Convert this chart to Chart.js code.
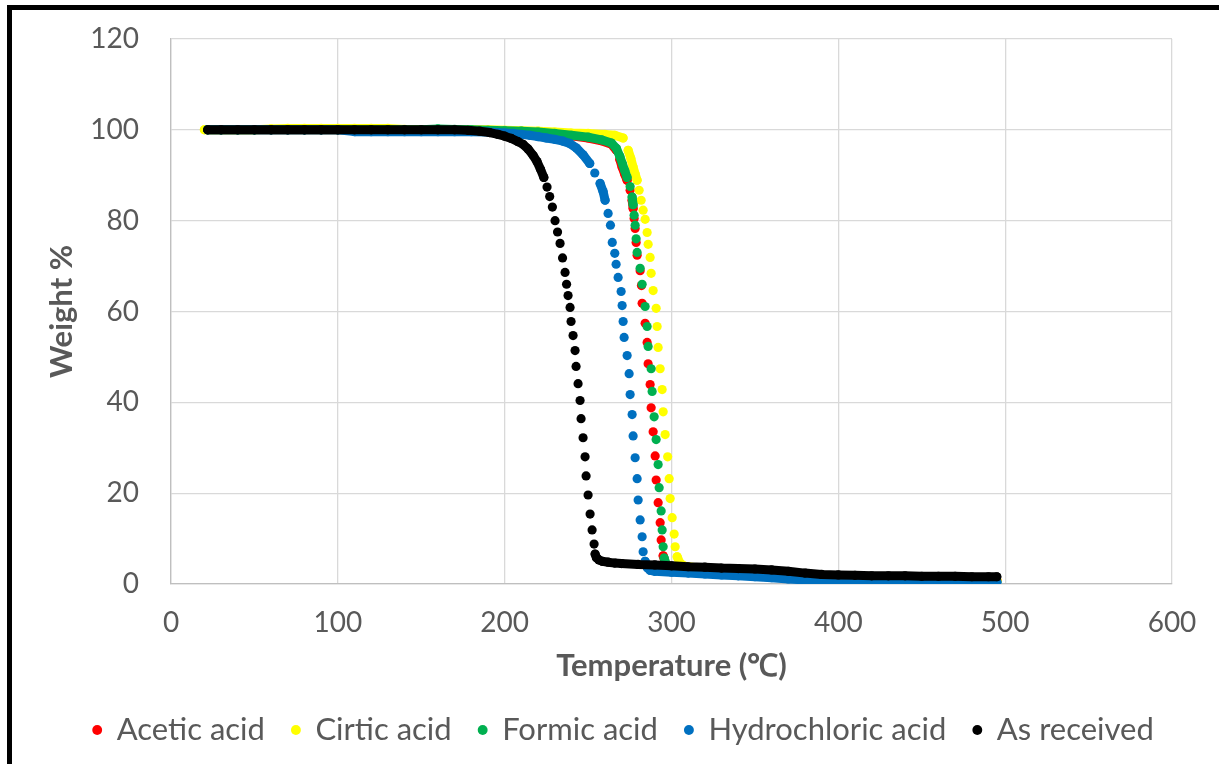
<!DOCTYPE html>
<html><head><meta charset="utf-8">
<script src="https://cdn.jsdelivr.net/npm/chart.js@4.4.0/dist/chart.umd.min.js"></script>
<style>
html,body{margin:0;padding:0;background:#fff;overflow:hidden;width:1219px;height:764px;}
#frame{position:absolute;left:7px;top:5px;width:1400px;height:1000px;border:5px solid #000;box-sizing:border-box;}
#wrap{position:absolute;left:0;top:0;width:1219px;height:764px;}
canvas{display:block;}
</style></head><body>
<div id="frame"></div>
<div id="wrap"><canvas id="c" width="1219" height="764" style="width:1219px;height:764px"></canvas></div>
<script>
// ---- data ----
const seriesNames = ['Acetic acid', 'Cirtic acid', 'Formic acid', 'Hydrochloric acid', 'As received'];

const aceticT = [22,30,40,50,60,70,80,90,100,110,120,130,140,150,160,170,180,190,200,210,220,230,240,250,258,264,267,269,270.4,272,273.4,275.2,276.4,277,277.6,278.2,278.8,279.4,281.2,282,282.4,284.2,285.4,286,287.2,287.8,289,290.2,290.8,292,293.2,293.8,295,296.5,298.5,305,320,340,360,380,400,420,440,460,480,495];
const aceticW = [100,100,100,100,100,100,100,100,100,100,100,100,100,100,99.9,99.9,99.8,99.8,99.7,99.6,99.4,99.1,98.7,98.2,97.6,96.8,95.5,93.5,91.8,90.2,88.9,86.7,84.5,82.7,80.5,78.3,75.2,72.4,69,65.7,61.8,57.4,53.2,48.5,43.9,38.8,33.5,28.2,22.9,17.9,13.5,9.7,6.2,4.4,3.6,3.3,3.0,2.6,2.2,1.6,1.2,1.0,0.9,0.8,0.8,0.8];

const citricT = [20,30,40,50,60,70,80,90,100,110,120,130,140,150,160,170,180,190,200,210,220,230,240,250,260,266,271,274,275.6,277,278.2,279.4,280.6,281.8,283,284.2,285.4,286,287.2,287.8,289,290.8,291.4,292,293.2,294.4,295,296.2,297.7,298.6,299.2,300.4,301.6,302.2,303.4,305,308,315,330,350,370,390,410,430,450,470,495];
const citricW = [100,100,100,100,100.2,100.3,100.3,100.3,100.3,100.3,100.3,100.3,100.1,100,100,100,100,100,99.9,99.8,99.7,99.5,99.3,99.2,99.0,98.8,98.2,95.5,93.7,91.8,90.3,88.9,86.7,84.5,82.3,80.3,77.4,74.8,71.9,68.4,64.6,60.7,56.7,52.1,47.4,42.8,37.9,32.9,28,23.2,18.8,14.6,11,8.2,6,4.6,3.9,3.6,3.3,2.9,2.2,1.6,1.3,1.1,1.0,0.9,0.9];

const formicT = [22,30,40,50,60,70,80,90,100,110,120,130,140,150,160,170,180,190,200,210,220,230,240,250,258,264,267,269,270.6,272,273.4,275.2,276.4,277,277.6,278.2,278.8,279.4,281.2,282.4,284.2,285.4,286,287.8,288.4,289.6,290.8,292,292.6,293.8,294.4,295,295.6,297,299,305,320,340,360,380,400,420,440,460,480,495];
const formicW = [100,100,100,100,100,100,100,100,100,100,100,100,100,100,100.2,100.1,100,99.9,99.8,99.7,99.5,99.2,98.8,98.4,97.8,97.1,95.9,94.2,92.5,91,89.5,87.5,85.2,83.5,81.2,79,76,73,69.5,66,61.1,56.7,52.3,47.4,42.4,36.8,31.8,26.3,21.2,16.1,11.9,8.2,5.7,4.2,3.5,3.2,2.9,2.5,2.1,1.5,1.1,0.9,0.8,0.7,0.6,0.5];

const hclT = [22,30,40,50,60,70,80,90,100,110,120,130,140,150,160,170,180,190,200,205,210,215,220,225,230,235,239,243,247,251,254,257.2,259,260.2,262,263.4,264.5,266,266.8,268,269.8,270.4,271,271.6,273.4,274.6,275.2,276.4,277,278.2,279.4,280,281.2,282.4,283,284.2,285.5,287.2,290,300,310,320,330,340,350,360,370,380,390,400,410,420,430,440,450,460,470,480,490,495];
const hclW = [100,100,100,100,100,100,100,100,100,99.6,99.6,99.6,99.6,99.6,99.6,99.6,99.6,99.5,99.3,99.2,99.0,98.8,98.5,98.2,97.9,97.5,97.0,96.0,94.5,92.6,90.5,88.2,86.4,84.5,81.6,79,75.2,72.8,70.4,67.5,64.4,61.3,57.8,54.3,50.3,46.3,41.7,37.3,32.6,27.8,23.2,18.5,14.1,10.4,7.1,5.0,3.6,3.0,2.8,2.6,2.4,2.2,2.0,1.8,1.6,1.4,1.1,0.9,0.8,0.7,0.6,0.5,0.5,0.5,0.4,0.4,0.4,0.4,0.4,0.4];

const asReceivedT = [22,30,40,50,60,70,80,90,100,110,120,130,140,150,160,170,178,185,191,196,200,204,208,211,214,217,219.4,221.5,223.5,225.4,227,228.6,230.2,231.7,233.2,234.7,236.2,237.1,238,239.2,239.8,241,242.2,242.8,244,245.2,245.8,247,248.2,248.8,250,251.2,252.4,253.6,254.2,255,256.5,258.5,262,266,270,280,290,300,310,320,330,340,350,360,370,380,390,400,410,420,430,440,450,460,470,480,490,495];
const asReceivedW = [100,100,100,100,100,100,100,100,100,100,100,100,100,100,100,100,99.9,99.7,99.4,99.0,98.6,98.1,97.4,96.8,95.8,94.4,93,91.3,89.5,87.4,85.3,83,80,77.5,75,71.8,68.6,66,63.5,60.9,57.8,54.7,51.4,47.9,44.1,40.4,36.4,32.2,28,23.8,19.6,15.4,11.9,8.8,6.6,5.8,5.3,5.0,4.8,4.6,4.5,4.3,4.2,4.0,3.8,3.7,3.5,3.4,3.3,3.1,2.8,2.4,2.1,2.0,1.9,1.8,1.8,1.8,1.7,1.7,1.7,1.6,1.6,1.6];

const xTicks = [0,100,200,300,400,500,600];
const yTicks = [0,20,40,60,80,100,120];

const colors = ['#FF0000', '#FFFF00', '#00B050', '#0070C0', '#000000'];
const allT = [aceticT, citricT, formicT, hclT, asReceivedT];
const allW = [aceticW, citricW, formicW, hclW, asReceivedW];

// ---- chart ----
const FONT = 'Lato';
const GREY = '#595959';
const datasets = seriesNames.map((name, i) => ({
  label: name,
  data: allT[i].map((t, k) => ({x: t, y: allW[i][k]})),
  order: seriesNames.length - 1 - i,   // later series drawn on top (Excel style)
  showLine: true,
  borderColor: colors[i],
  borderWidth: 9,
  borderCapStyle: 'round',
  borderJoinStyle: 'round',
  backgroundColor: colors[i],
  pointBackgroundColor: colors[i],
  pointBorderWidth: 0,
  pointRadius: 4.6,
  pointHoverRadius: 4.6,
  segment: {
    // dense runs of overlapping markers look like a band; sparse steep drops show separate dots
    borderColor: c => Math.abs(c.p1.y - c.p0.y) > 9 ? 'rgba(0,0,0,0)' : undefined
  }
}));

const legendShift = {
  id: 'legendShift',
  afterLayout(chart) { chart.legend.left += 16; chart.legend.right += 16; }
};

new Chart(document.getElementById('c'), {
  type: 'scatter',
  data: { datasets },
  plugins: [legendShift],
  options: {
    responsive: false,
    animation: false,
    events: [],
    layout: { padding: { left: 43, right: 47, top: 39, bottom: 8.5 } },
    plugins: {
      tooltip: { enabled: false },
      legend: {
        position: 'bottom',
        labels: {
          usePointStyle: true,
          boxWidth: 8,
          boxHeight: 7,
          padding: 27,
          color: GREY,
          font: { family: FONT, size: 31 },
          sort: (a, b) => a.datasetIndex - b.datasetIndex
        }
      }
    },
    scales: {
      x: {
        type: 'linear',
        min: 0, max: 600,
        afterBuildTicks: s => { s.ticks = xTicks.map(v => ({value: v})); },
        afterFit: s => { s.height = 103.5; },
        ticks: { color: GREY, font: { family: FONT, size: 28 }, padding: 22 },
        grid: { color: '#D9D9D9', lineWidth: 1.3, drawTicks: false },
        border: { color: '#BFBFBF', width: 1.3 },
        title: { display: true, text: 'Temperature (℃)', color: GREY,
                 font: { family: FONT, size: 31, weight: 'bold' }, padding: { top: 10, bottom: 3 } }
      },
      y: {
        type: 'linear',
        min: 0, max: 120,
        afterBuildTicks: s => { s.ticks = yTicks.map(v => ({value: v})); },
        afterFit: s => { s.width = 128; },
        ticks: { color: GREY, font: { family: FONT, size: 28 }, padding: 3 },
        grid: { color: '#D9D9D9', lineWidth: 1.3, drawTicks: true, tickLength: 29, tickColor: 'rgba(0,0,0,0)' },
        border: { color: '#BFBFBF', width: 1.3 },
        title: { display: true, text: 'Weight %', color: GREY,
                 font: { family: FONT, size: 31, weight: 'bold' }, padding: { top: 0, bottom: 11 } }
      }
    }
  }
});
</script>
</body></html>
